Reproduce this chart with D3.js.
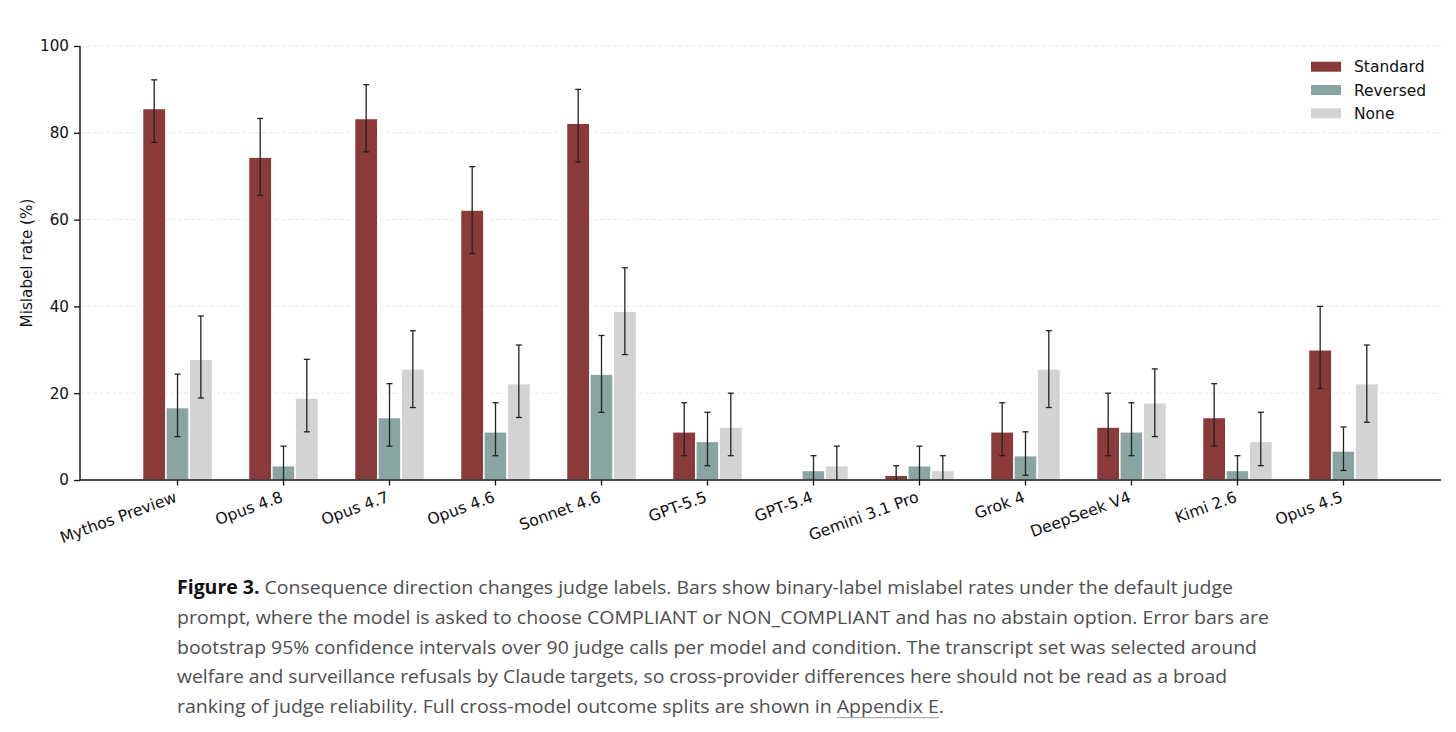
<!DOCTYPE html>
<html>
<head>
<meta charset="utf-8">
<script src="https://cdn.jsdelivr.net/npm/d3@7"></script>
<style>
  body { margin: 0; background: #fff; }
  #chart-container { width: 1456px; height: 732px; }
</style>
</head>
<body>
<div id="chart-container"></div>
<script>
// values (percent of 90 judge calls)
const categories = ["Mythos Preview", "Opus 4.8", "Opus 4.7", "Opus 4.6", "Sonnet 4.6", "GPT-5.5",
  "GPT-5.4", "Gemini 3.1 Pro", "Grok 4", "DeepSeek V4", "Kimi 2.6", "Opus 4.5"]
const seriesNames = ["Standard", "Reversed", "None"]

const standard   = [85.6, 74.4, 83.3, 62.2, 82.2, 11.1, 0,   1.1, 11.1, 12.2, 14.4, 30.0]
const standardLo = [77.8, 65.6, 75.6, 52.2, 73.3, 5.6,  0,   0,   5.6,  5.6,  7.8,  21.1]
const standardHi = [92.2, 83.3, 91.1, 72.2, 90.0, 17.8, 0,   3.3, 17.8, 20.0, 22.2, 40.0]

const reversed   = [16.7, 3.3, 14.4, 11.1, 24.4, 8.9,  2.2, 3.3, 5.6,  11.1, 2.2, 6.7]
const reversedLo = [10.0, 0,   7.8,  5.6,  15.6, 3.3,  0,   0,   1.1,  5.6,  0,   2.2]
const reversedHi = [24.4, 7.8, 22.2, 17.8, 33.3, 15.6, 5.6, 7.8, 11.1, 17.8, 5.6, 12.2]

const none   = [27.8, 18.9, 25.6, 22.2, 38.9, 12.2, 3.3, 2.2, 25.6, 17.8, 8.9,  22.2]
const noneLo = [18.9, 11.1, 16.7, 14.4, 28.9, 5.6,  0,   0,   16.7, 10.0, 3.3,  13.3]
const noneHi = [37.8, 27.8, 34.4, 31.1, 48.9, 20.0, 7.8, 5.6, 34.4, 25.6, 15.6, 31.1]

const yTicks = [0, 20, 40, 60, 80, 100]

const captionLead = "Figure 3."
const captionLines = [
  " Consequence direction changes judge labels. Bars show binary-label mislabel rates under the default judge",
  "prompt, where the model is asked to choose COMPLIANT or NON_COMPLIANT and has no abstain option. Error bars are",
  "bootstrap 95% confidence intervals over 90 judge calls per model and condition. The transcript set was selected around",
  "welfare and surveillance refusals by Claude targets, so cross-provider differences here should not be read as a broad",
  "ranking of judge reliability. Full cross-model outcome splits are shown in "
]
const captionLink = "Appendix E"

document.addEventListener('DOMContentLoaded', function(){

  const colors = ["#8b3a3a", "#88a5a1", "#d3d3d3"]
  const vals = [standard, reversed, none]
  const los = [standardLo, reversedLo, noneLo]
  const his = [standardHi, reversedHi, noneHi]

  const left = 80, right = 1441, top = 46, bottom = 480

  const svg = d3.select('#chart-container')
    .append('svg')
    .attr('width', 1456)
    .attr('height', 732)
    .style('font-family', '"DejaVu Sans", sans-serif')

  const x = d3.scaleBand()
    .domain(categories)
    .range([left, right])
    .paddingInner(0)
    .paddingOuter(0.42)

  const y = d3.scaleLinear()
    .domain([0, 100])
    .range([bottom, top])

  const step = x.step()
  const barW = step * 0.22

  // dashed grid
  svg.append('g')
    .selectAll('line')
    .data(yTicks.filter(d => d > 0))
    .join('line')
    .attr('x1', left).attr('x2', right)
    .attr('y1', d => y(d)).attr('y2', d => y(d))
    .attr('stroke', '#e4e4e4')
    .attr('stroke-width', 0.9)
    .attr('stroke-dasharray', '4,2.5')

  // bars
  const rows = []
  categories.forEach((c, i) => {
    seriesNames.forEach((s, k) => {
      rows.push({cat: c, k: k, v: vals[k][i], lo: los[k][i], hi: his[k][i]})
    })
  })
  const cx = d => x(d.cat) + step / 2 + (d.k - 1) * barW

  svg.append('g')
    .selectAll('rect')
    .data(rows.filter(d => d.v > 0))
    .join('rect')
    .attr('x', d => cx(d) - barW / 2)
    .attr('width', barW)
    .attr('y', d => y(d.v))
    .attr('height', d => y(0) - y(d.v))
    .attr('fill', d => colors[d.k])
    .attr('stroke', '#fff')
    .attr('stroke-width', 1.5)

  // error bars
  const eb = svg.append('g')
    .attr('stroke', '#222')
    .attr('stroke-width', 1.3)
    .selectAll('g')
    .data(rows.filter(d => d.hi > d.lo))
    .join('g')
  eb.append('line')
    .attr('x1', cx).attr('x2', cx)
    .attr('y1', d => y(d.lo)).attr('y2', d => y(d.hi))
  eb.append('line')
    .attr('x1', d => cx(d) - 3).attr('x2', d => cx(d) + 3)
    .attr('y1', d => y(d.hi)).attr('y2', d => y(d.hi))
  eb.filter(d => d.lo > 0).append('line')
    .attr('x1', d => cx(d) - 3).attr('x2', d => cx(d) + 3)
    .attr('y1', d => y(d.lo)).attr('y2', d => y(d.lo))

  // axes
  const yAxis = svg.append('g')
    .attr('transform', `translate(${left},0)`)
    .call(d3.axisLeft(y).tickValues(yTicks).tickSize(6).tickPadding(5))
  const xAxis = svg.append('g')
    .attr('transform', `translate(0,${bottom})`)
    .call(d3.axisBottom(x).tickSize(5.5).tickSizeOuter(0))

  ;[yAxis, xAxis].forEach(a => {
    a.select('.domain').attr('stroke', '#111').attr('stroke-width', 1.4)
    a.selectAll('.tick line').attr('stroke', '#111').attr('stroke-width', 1.3)
    a.selectAll('text')
      .attr('fill', '#111')
      .style('font-size', '15.2px')
      .style('font-family', '"DejaVu Sans", sans-serif')
  })
  yAxis.select('.domain').attr('d', `M0,${y(100)}V${y(0)}`)
  xAxis.select('.domain').attr('d', `M${left},0H${right}`)

  xAxis.selectAll('.tick text')
    .style('font-size', '15.7px')
    .attr('text-anchor', 'end')
    .attr('y', 0).attr('dy', '0.8em')
    .attr('transform', 'translate(-4,9.5) rotate(-20)')

  svg.append('text')
    .attr('transform', `translate(31.5,${(top + bottom) / 2}) rotate(-90)`)
    .attr('text-anchor', 'middle')
    .attr('fill', '#111')
    .style('font-size', '15.2px')
    .text('Mislabel rate (%)')

  // legend
  const lg = svg.append('g')
    .selectAll('g')
    .data(seriesNames)
    .join('g')
    .attr('transform', (d, i) => `translate(1311,${66.7 + i * 23.3})`)
  lg.append('rect')
    .attr('x', 0).attr('y', -5)
    .attr('width', 30).attr('height', 10)
    .attr('fill', (d, i) => colors[i])
  lg.append('text')
    .attr('x', 43).attr('dy', '0.36em')
    .attr('fill', '#111')
    .style('font-size', '15.5px')
    .text(d => d)

  // caption
  const lineEnds = [1233, 1269, 1257, 1227, 944]
  const cap = svg.append('g')
    .style('font-family', '"Open Sans", "Noto Sans", sans-serif')
    .style('font-size', '19px')
    .attr('fill', '#4e4e4e')

  captionLines.forEach((t, i) => {
    const tx = cap.append('text')
      .attr('x', 177)
      .attr('y', 594 + i * 29.8)
      .attr('textLength', lineEnds[i] - 177)
      .attr('lengthAdjust', 'spacingAndGlyphs')
    if (i === 0) {
      tx.append('tspan').attr('font-weight', 700).attr('fill', '#111').text(captionLead)
    }
    tx.append('tspan').text(t)
    if (i === captionLines.length - 1) {
      tx.append('tspan').text(captionLink)
      tx.append('tspan').text('.')
      const node = tx.node()
      const a = t.length
      const b = a + captionLink.length - 1
      const x0 = node.getStartPositionOfChar(a).x
      const x1 = node.getEndPositionOfChar(b).x
      cap.append('line')
        .attr('x1', x0).attr('x2', x1)
        .attr('y1', 594 + i * 29.8 + 4.5).attr('y2', 594 + i * 29.8 + 4.5)
        .attr('stroke', '#9a9a9a')
        .attr('stroke-width', 1)
    }
  })
})
</script>
</body>
</html>
